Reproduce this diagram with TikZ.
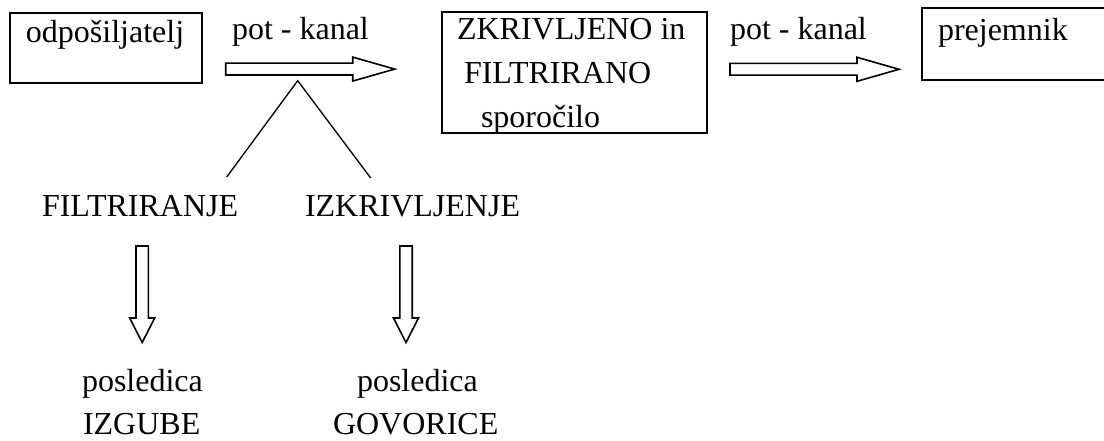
\documentclass[tikz,border=0pt]{standalone}
\usepackage{fontspec}
\setmainfont{Liberation Serif}
\usetikzlibrary{fit}
\begin{document}
\begin{tikzpicture}[x=0.75pt,y=-0.75pt,
  txt/.style={anchor=base west, inner sep=0pt, outer sep=0pt, font=\fontsize{24pt}{28pt}\selectfont},
  boxst/.style={draw, line width=1.3pt, inner sep=0pt, outer sep=0pt},
  fat/.style={draw, line width=1.2pt, fill=white, line join=miter},
  leg/.style={line width=1pt},
  harrow/.pic={\draw[fat] (0,-5.9) -- (127,-5.9) -- (127,-12) -- (169,0) -- (127,12) -- (127,5.9) -- (0,5.9) -- cycle;},
  varrow/.pic={\draw[fat] (-6.2,0) -- (-6.2,72) -- (-12.5,72) -- (0,96.5) -- (12.5,72) -- (6.2,72) -- (6.2,0) -- cycle;}]
\useasboundingbox (0,0) rectangle (1104,441);
\clip (0,0) rectangle (1104,441);

% boxes
\node[boxst, fit={(10,12.7)(202,83)}] (b1) {};
\node[boxst, fit={(442.3,12.3)(706.7,132.7)}] (b2) {};
\node[boxst, line width=1.8pt, fit={(922,8.3)(1120,80)}] (b3) {};

% texts
\node[txt] (t1) at (26,43) {odpošiljatelj};
\node[txt] (k1) at (232,39.5) {pot - kanal};
\node[txt] (t2a) at (457,39.5) {ZKRIVLJENO in};
\node[txt] (t2b) at (464,84) {FILTRIRANO};
\node[txt] (t2c) at (481,128) {sporočilo};
\node[txt] (k2) at (730,39.5) {pot - kanal};
\node[txt] (t3) at (938,40.7) {prejemnik};
\node[txt] (fil) at (42,216.7) {FILTRIRANJE};
\node[txt] (izk) at (305,216.7) {IZKRIVLJENJE};
\node[txt] (p1) at (82,392) {posledica};
\node[txt] (c1) at (83,434.5) {IZGUBE};
\node[txt] (p2) at (357,392) {posledica};
\node[txt] (c2) at (333,434.5) {GOVORICE};

% block arrows
\pic at (225.7,69.1) {harrow};
\pic at (730,69.3) {harrow};
\pic at (142.2,246) {varrow};
\pic at (406,246) {varrow};

% split lines
\coordinate (apex) at (297.7,80.7);
\coordinate (lf) at (226.7,177);
\coordinate (rf) at (370.7,178);
\draw[leg] (lf) -- (apex) -- (rf);
\end{tikzpicture}
\end{document}
